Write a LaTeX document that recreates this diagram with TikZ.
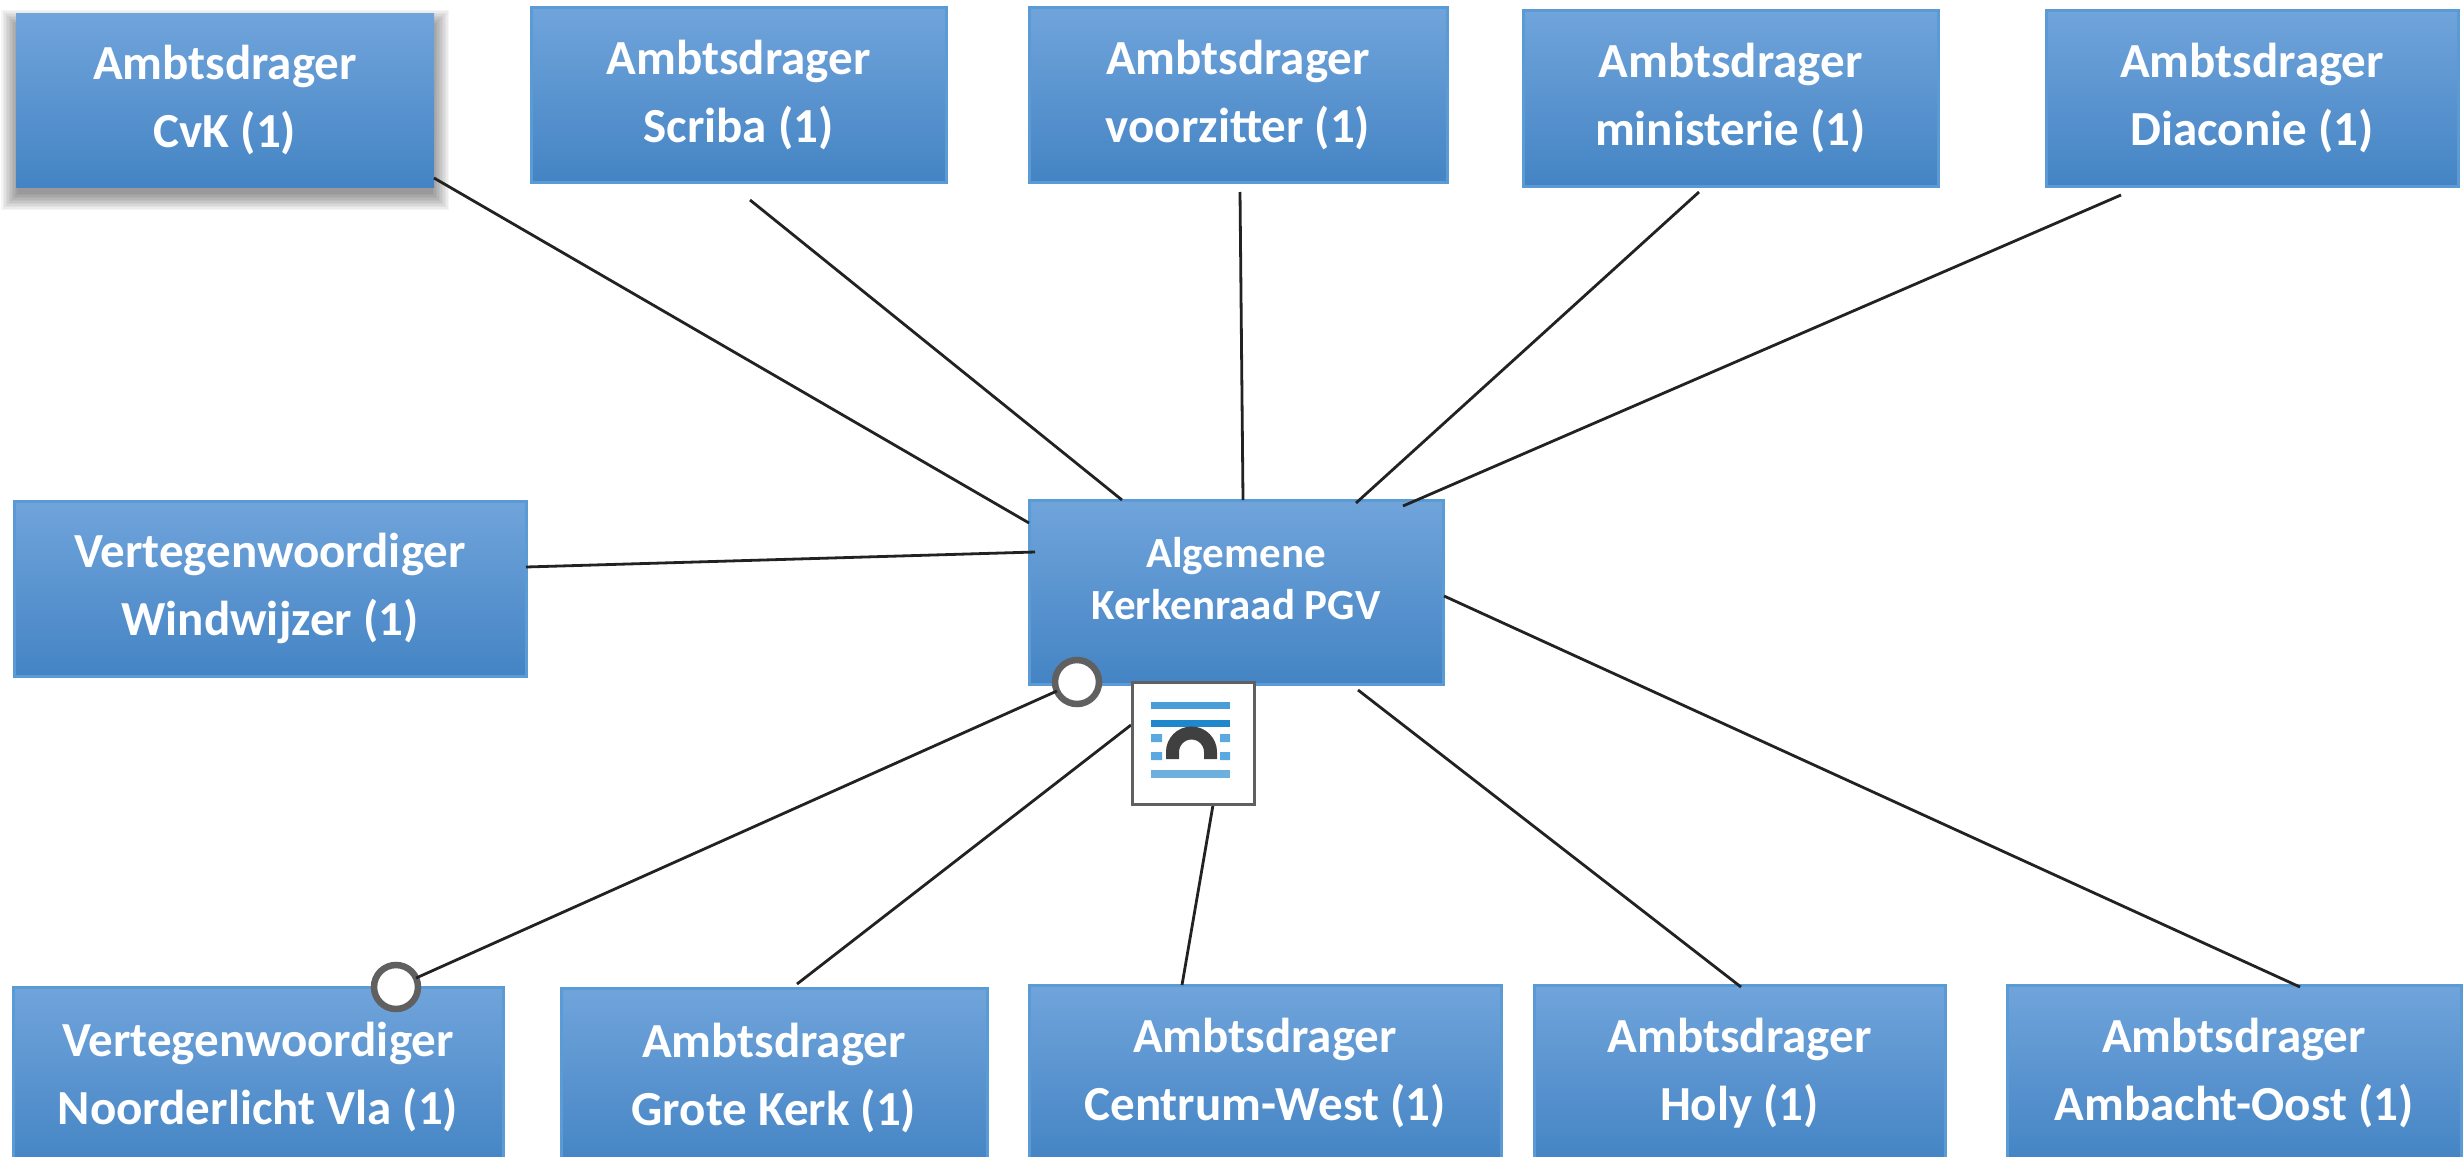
\documentclass[tikz,border=0pt]{standalone}
\usepackage{fontspec}
\setmainfont{Carlito}
\usetikzlibrary{calc}
\definecolor{gtop}{HTML}{70A4DB}
\definecolor{gmid}{HTML}{5398DB}
\definecolor{gbot}{HTML}{4484C4}
\definecolor{bord}{HTML}{5B9BD5}
\definecolor{linec}{HTML}{222222}
\definecolor{handlec}{HTML}{606060}
\definecolor{iconA}{HTML}{4A9DD6}
\definecolor{iconB}{HTML}{1F87CC}
\definecolor{iconC}{HTML}{5AAAE1}
\definecolor{iconD}{HTML}{6DB0E0}
\definecolor{iconE}{HTML}{404040}
\tikzset{
  boxbase/.style={rectangle,top color=gtop,middle color=gmid,bottom color=gbot,text=white,
    align=center,inner sep=0pt,outer sep=0pt},
  ambt/.style={boxbase,draw=bord,line width=3pt,font=\fontsize{49}{68}\selectfont\bfseries},
  ambtplain/.style={boxbase,font=\fontsize{49}{68}\selectfont\bfseries},
  central/.style={boxbase,draw=bord,line width=3pt,font=\fontsize{43}{52}\selectfont\bfseries},
  sized/.style 2 args={minimum width=#1pt,minimum height=#2pt},
  conn/.style={draw=linec,line width=2.8pt},
  handle/.style={circle,draw=handlec,fill=white,line width=6.5pt,minimum size=44pt,inner sep=0pt,outer sep=0pt},
  iconbox/.style={rectangle,draw=handlec,fill=white,line width=3pt,minimum size=122pt,inner sep=0pt,outer sep=0pt}
}
\newcommand{\connect}[4]{\draw[conn] ($(#1.center)+(#2)$) -- ($(#3.center)+(#4)$);}
\begin{document}
\begin{tikzpicture}[x=1pt,y=-1pt]
\useasboundingbox (0,0) rectangle (2464,1156);
\fill[white] (0,0) rectangle (2464,1156);
\clip (0,0) rectangle (2464,1156);
% shadow of the selected box
\foreach \i in {1,...,12}{
  \fill[black,opacity=0.04] ({19-1.5*\i},{28-1.5*\i}) rectangle ({431+1.5*\i},{192+1.5*\i});
}
\node[ambtplain,sized={418}{173}] (cvk) at (225,100.5) {Ambtsdrager\\CvK (1)};
\node[ambt,sized={415}{174}] (scriba) at (738.5,95) {Ambtsdrager\\Scriba (1)};
\node[ambt,sized={418}{174}] (voorz) at (1238,95) {Ambtsdrager\\voorzitter (1)};
\node[ambt,sized={415}{175}] (minis) at (1730.5,98.5) {Ambtsdrager\\ministerie (1)};
\node[ambt,sized={412}{175}] (diac) at (2252,98.5) {Ambtsdrager\\Diaconie (1)};
\node[ambt,sized={512}{175}] (wind) at (270,588.5) {Vertegenwoordiger\\Windwijzer (1)};
\node[central,sized={414}{184}] (alg) at (1236,592) {Algemene\\Kerkenraad PGV\\[-40pt]\strut};
\node[ambt,sized={490}{181}] (noord) at (258,1077.5) {Vertegenwoordiger\\Noorderlicht Vla (1)};
\node[ambt,sized={426}{180}] (grote) at (774,1078) {Ambtsdrager\\Grote Kerk (1)};
\node[ambt,sized={472}{177}] (centrum) at (1265,1073.5) {Ambtsdrager\\Centrum-West (1)};
\node[ambt,sized={411}{177}] (holy) at (1739.5,1073.5) {Ambtsdrager\\Holy (1)};
\node[ambt,sized={454}{177}] (amb) at (2234,1073.5) {Ambtsdrager\\Ambacht-Oost (1)};
% connectors
\connect{cvk}{209,77.5}{alg}{-207,-69}
\connect{scriba}{11.5,105}{alg}{-114,-92}
\connect{voorz}{2,97}{alg}{7,-92}
\connect{minis}{-31.5,93.5}{alg}{120,-89}
\connect{diac}{-131,96.5}{alg}{167,-86}
\connect{wind}{256,-21.5}{alg}{-201,-40}
\connect{grote}{23,-94}{alg}{-105,133}
\connect{centrum}{-83,-88.5}{alg}{-23,213}
\connect{holy}{1.5,-86.5}{alg}{122,98}
\connect{amb}{66,-86.5}{alg}{208,4}
% selection handles
\node[handle] (hnear) at (1077,682) {};
\node[handle] (hfar) at (396,987) {};
\draw[conn] (hfar) -- (hnear);
% layout icon
\node[iconbox] (icon) at (1193,743) {};
\fill[iconA] (1151,702) rectangle (1230,709);
\fill[iconB] (1151,720) rectangle (1230,727);
\fill[iconC] (1151,734) rectangle (1162,742) (1220,734) rectangle (1230,742);
\fill[iconC] (1151,752) rectangle (1162,760) (1220,752) rectangle (1230,760);
\fill[iconD] (1151,770) rectangle (1230,778);
\draw[iconE,line width=13pt] (1172.5,759) -- (1172.5,752) arc[start angle=180,end angle=0,radius=19pt] -- (1210.5,759);
\end{tikzpicture}
\end{document}
